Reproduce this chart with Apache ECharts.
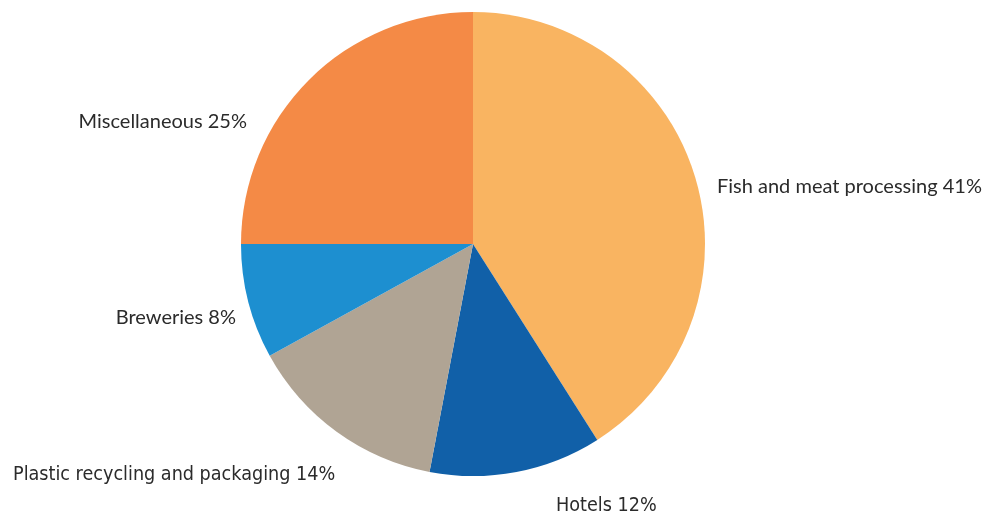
<!DOCTYPE html>
<html><head><meta charset="utf-8">
<script src="https://cdn.jsdelivr.net/npm/echarts@6/dist/echarts.min.js"></script>
<style>html,body{margin:0;padding:0;background:#fff}#c{width:989px;height:516px}</style>
</head><body><div id="c"></div>
<script>
const categories = ["Fish and meat processing","Hotels","Plastic recycling and packaging","Breweries","Miscellaneous"];
const values = [41,12,14,8,25];
const colors = ["#F9B461","#1160A8","#B0A494","#1D8FD0","#F48A46"];
const labelPos = [
  {x:717,y:187,align:'left'},
  {x:556,y:506,align:'left'},
  {x:13,y:475,align:'left'},
  {x:236,y:318,align:'right'},
  {x:247,y:122,align:'right'}
];
const narrow = [false,true,true,false,false];
const chart = echarts.init(document.getElementById('c'));
chart.setOption({
  animation:false,
  series:[{
    type:'pie',
    center:[473,244],
    radius:[0,232],
    startAngle:90,
    clockwise:true,
    data:categories.map((n,i)=>({
      name:n, value:values[i], itemStyle:{color:colors[i]},
      label:{fontFamily: narrow[i] ? '"DejaVu Sans Condensed", Lato' : 'Lato', fontSize: narrow[i] ? 19.6 : 20}
    })),
    label:{show:true, position:'outside', overflow:'none', width:600, formatter:p=>p.name+' '+p.value+'%', color:'#2b2b2b', fontFamily:'Lato', fontSize:20},
    labelLine:{show:false},
    labelLayout:function(p){const l=labelPos[p.dataIndex];return {x:l.x,y:l.y,align:l.align,verticalAlign:'middle',width:600};},
    itemStyle:{borderWidth:0}
  }]
});
</script></body></html>
